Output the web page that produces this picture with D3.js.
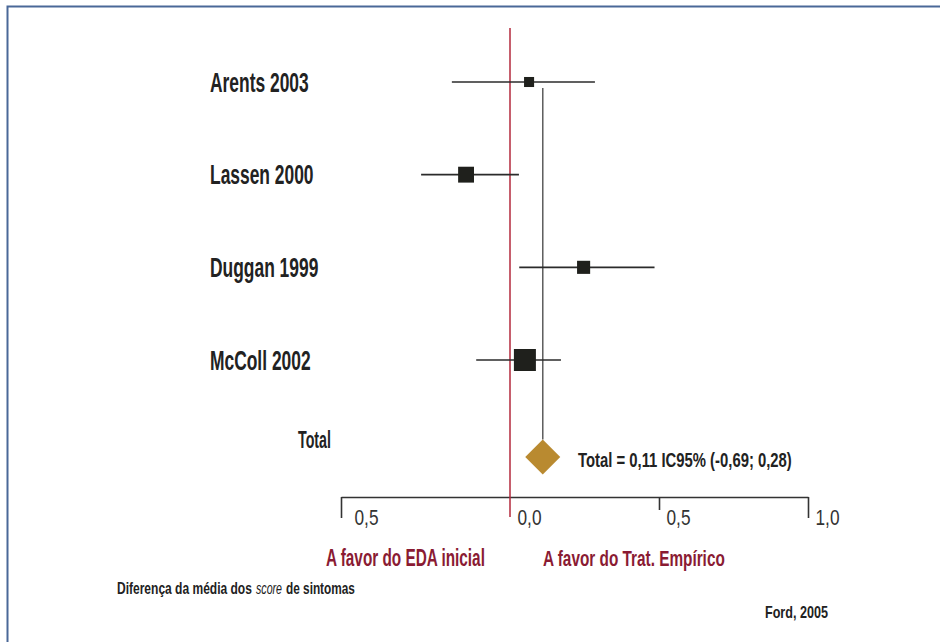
<!DOCTYPE html>
<html>
<head>
<meta charset="utf-8">
<script src="https://cdn.jsdelivr.net/npm/d3@7"></script>
<style>
  body { margin: 0; background: #fff; }
  svg { display: block; }
  text { font-family: "Liberation Sans", Arial, sans-serif; }
</style>
</head>
<body>
<svg id="chart" width="940" height="642"></svg>
<script>
// Studies in the meta-analysis (mean difference in symptom score)
const studies = ["Arents 2003", "Lassen 2000", "Duggan 1999", "McColl 2002"];
const effects = [0.064, -0.130, 0.247, 0.050];
const lower   = [-0.172, -0.263, 0.031, -0.100];
const upper   = [0.285, 0.030, 0.485, 0.171];
const weights = [10, 25, 17, 48];

// Pooled estimate
const pooled = 0.11;
const pooledLabel = "Total = 0,11 IC95% (-0,69; 0,28)";

// Axis ticks
const tickValues = [-0.5, 0, 0.5, 1.0];
const tickLabels = ["0,5", "0,0", "0,5", "1,0"];

const svg = d3.select("#chart");

// Frame
svg.append("rect")
  .attr("x", 7.5).attr("y", 6.5)
  .attr("width", 960).attr("height", 660)
  .attr("fill", "none")
  .attr("stroke", "#4a6898")
  .attr("stroke-width", 2);

const x = d3.scaleLinear().domain([-0.5, 0, 1.0]).range([341, 510, 808]);
const y = d3.scalePoint().domain(studies).range([82, 360]);
const totalY = 457;
const axisY = 497;
const size = d3.scaleSqrt().domain([0, d3.max(weights)]).range([0, 22]);

const rows = studies.map((s, i) => ({ name: s, eff: effects[i], lo: lower[i], hi: upper[i], w: weights[i] }));

// Place a text at (px, py) squeezed horizontally to a condensed look.
// k: squeeze factor, or width: final width in pixels.
function squeeze(sel, px, py, opt) {
  sel.each(function (d, i) {
    const node = d3.select(this);
    const X = typeof px === "function" ? px(d, i) : px;
    const Y = typeof py === "function" ? py(d, i) : py;
    node.attr("x", 0).attr("y", 0);
    const w0 = this.getComputedTextLength();
    const k = opt.width ? opt.width / w0 : opt.k;
    node.attr("transform", `translate(${X},${Y}) scale(${k},1)`);
  });
}

// Axis
const axis = d3.axisBottom(x)
  .tickValues(tickValues)
  .tickFormat((d, i) => tickLabels[i])
  .tickSize(20)
  .tickSizeOuter(0);

const gAxis = svg.append("g").attr("transform", `translate(0,${axisY})`).call(axis);
gAxis.select(".domain").attr("stroke", "#333").attr("stroke-width", 1.6);
gAxis.selectAll(".tick line")
  .attr("stroke", "#333").attr("stroke-width", 1.6)
  .attr("y2", d => d === 0 ? 0 : (d === 0.5 ? 13 : 21));
gAxis.selectAll(".tick text")
  .attr("dy", 0)
  .attr("text-anchor", "start")
  .attr("fill", "#333")
  .attr("font-size", 22)
  .attr("font-family", null)
  .call(squeeze, d => (d === -0.5 ? 13 : 7), 28, { width: 24 });

// Reference line at zero
svg.append("line")
  .attr("x1", x(0)).attr("x2", x(0))
  .attr("y1", 28).attr("y2", 517)
  .attr("stroke", "#b3283d").attr("stroke-width", 1.5);

// Vertical line at the pooled estimate
svg.append("line")
  .attr("x1", x(pooled)).attr("x2", x(pooled))
  .attr("y1", y(studies[0]) + 6).attr("y2", totalY - 17.5)
  .attr("stroke", "#5c5c5c").attr("stroke-width", 1.5);

// Confidence intervals
svg.append("g").selectAll("line").data(rows).join("line")
  .attr("x1", d => x(d.lo)).attr("x2", d => x(d.hi))
  .attr("y1", d => y(d.name)).attr("y2", d => y(d.name))
  .attr("stroke", "#2b2b2b").attr("stroke-width", 1.6);

// Point estimates, sized by weight
svg.append("g").selectAll("rect").data(rows).join("rect")
  .attr("x", d => x(d.eff) - size(d.w) / 2)
  .attr("y", d => y(d.name) - size(d.w) / 2)
  .attr("width", d => size(d.w))
  .attr("height", d => size(d.w))
  .attr("fill", "#1f201c");

// Pooled diamond
const dh = 17.5;
svg.append("path")
  .attr("d", `M${x(pooled)},${totalY - dh}L${x(pooled) + dh},${totalY}L${x(pooled)},${totalY + dh}L${x(pooled) - dh},${totalY}Z`)
  .attr("fill", "#b98a30");

// Study labels
svg.append("g").selectAll("text").data(rows).join("text")
  .attr("font-size", 27)
  .attr("font-weight", "bold")
  .attr("fill", "#222")
  .text(d => d.name)
  .call(squeeze, 210, d => y(d.name) + 9.5, { k: 0.645 });

svg.append("text")
  .attr("font-size", 23).attr("font-weight", "bold").attr("fill", "#222")
  .text("Total")
  .call(squeeze, 298, 448, { width: 33 });

svg.append("text")
  .attr("font-size", 21).attr("font-weight", "bold").attr("fill", "#222")
  .text(pooledLabel)
  .call(squeeze, 578, 466.5, { width: 214 });

// Direction labels
svg.append("text")
  .attr("font-size", 23).attr("font-weight", "bold").attr("fill", "#8a1b33")
  .text("A favor do EDA inicial")
  .call(squeeze, 326, 566, { width: 159 });

svg.append("text")
  .attr("font-size", 23).attr("font-weight", "bold").attr("fill", "#8a1b33")
  .text("A favor do Trat. Empírico")
  .call(squeeze, 543, 566, { width: 182 });

// Axis caption (three runs, the middle one in italics)
const capY = 594;
svg.append("text")
  .attr("font-size", 16).attr("font-weight", "bold").attr("fill", "#222")
  .text("Diferença da média dos")
  .call(squeeze, 117, capY, { width: 135 });
svg.append("text")
  .attr("font-size", 16).attr("font-style", "italic").attr("fill", "#222")
  .text("score")
  .call(squeeze, 256, capY, { width: 26 });
svg.append("text")
  .attr("font-size", 16).attr("font-weight", "bold").attr("fill", "#222")
  .text("de sintomas")
  .call(squeeze, 286, capY, { width: 69 });

// Source
svg.append("text")
  .attr("font-size", 16).attr("font-weight", "bold").attr("fill", "#222")
  .text("Ford, 2005")
  .call(squeeze, 765, 618, { width: 63 });
</script>
</body>
</html>
